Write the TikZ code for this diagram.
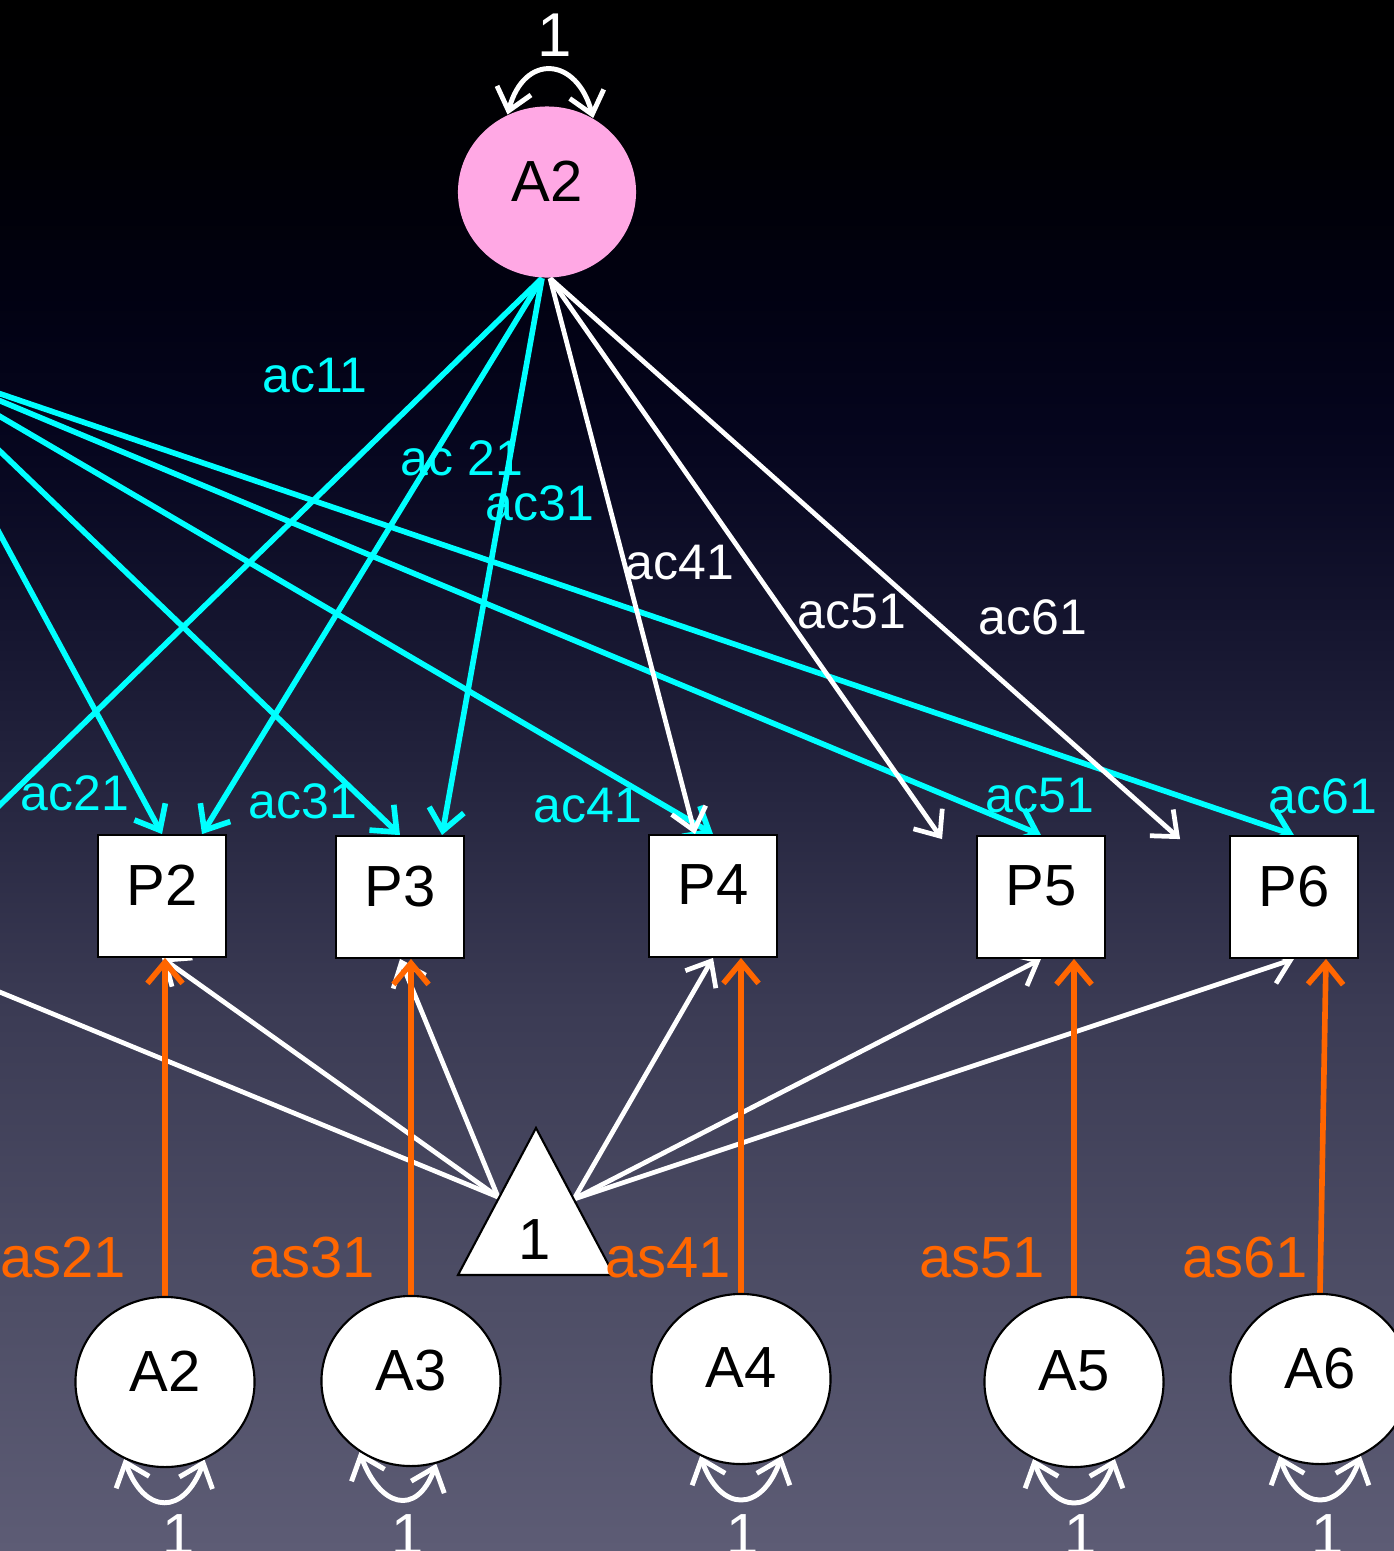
\documentclass[tikz,border=0pt]{standalone}
\usepackage{fontspec}
\setmainfont{Liberation Sans}
\usetikzlibrary{arrows.meta,shapes.geometric,calc}

\definecolor{cyanline}{HTML}{00FFFF}
\definecolor{orangeline}{HTML}{FF6600}
\definecolor{pinkfill}{HTML}{FFA8E4}
\definecolor{bga}{HTML}{5D5C75}
\definecolor{bgb}{HTML}{4E4E66}
\definecolor{bgc}{HTML}{3B3B54}
\definecolor{bgd}{HTML}{272741}
\definecolor{bge}{HTML}{13132D}
\definecolor{bgf}{HTML}{06061F}
\definecolor{bgg}{HTML}{010112}
\definecolor{bgh}{HTML}{000004}
\definecolor{bgi}{HTML}{000000}

% the path is fitted to the middle band (25bp to 75bp) of the shading
\pgfdeclareverticalshading{bgshade}{100bp}{color(0bp)=(bga); color(25bp)=(bga); color(33bp)=(bgb); color(42.5bp)=(bgc); color(49bp)=(bgd); color(55.5bp)=(bge); color(60.5bp)=(bgf); color(65.5bp)=(bgg); color(70bp)=(bgh); color(75bp)=(bgi); color(100bp)=(bgi)}

\pgfdeclarelayer{backdrop}
\pgfdeclarelayer{edges}
\pgfsetlayers{backdrop,edges,main}

\begin{document}
\begin{tikzpicture}[x=0.01cm, y=-0.01cm,
  bigfont/.style={font=\fontsize{16.5}{18}\selectfont},
  labfont/.style={font=\fontsize{14.2}{16}\selectfont, inner sep=0pt},
  obsbox/.style={bigfont, draw=black, line width=0.5pt, fill=white, rectangle,
    minimum width=1.28cm, minimum height=1.22cm, inner sep=0pt, text depth=6.3pt},
  latentw/.style={bigfont, draw=black, line width=0.6pt, fill=white, ellipse,
    minimum width=1.79cm, minimum height=1.70cm, inner sep=0pt, text depth=6.3pt},
  latentp/.style={bigfont, fill=pinkfill, ellipse,
    minimum width=1.78cm, minimum height=1.71cm, inner sep=0pt, text depth=6.3pt},
  cyanlab/.style={labfont, text=cyanline},
  whitelab/.style={labfont, text=white},
  orangelab/.style={bigfont, inner sep=0pt, text=orangeline},
  onelab/.style={bigfont, inner sep=0pt, text=white},
  barb/.tip={Straight Barb[length=6pt, width=10pt]},
  cyanarrow/.style={draw=cyanline, line width=1.6pt, -barb},
  whitearrow/.style={draw=white, line width=1.35pt, -barb},
  orangearrow/.style={draw=orangeline, line width=1.6pt, -barb},
  loopline/.style={draw=white, line width=1.4pt, barb-barb, looseness=1.9}
]
\useasboundingbox (0,0) rectangle (1394,1551);
\begin{pgfonlayer}{backdrop}
  \shade[shading=bgshade] (0,0) rectangle (1394,1551);
\end{pgfonlayer}

% common factor (top) and observed variables
\node[latentp] (Atop) at (547,192) {A2};
\node[obsbox] (P2) at (162,896) {P2};
\node[obsbox] (P3) at (400,897) {P3};
\node[obsbox] (P4) at (713,896) {P4};
\node[obsbox] (P5) at (1041,897) {P5};
\node[obsbox] (P6) at (1294,897) {P6};

% specific factors
\node[latentw] (L2) at (165,1382) {A2};
\node[latentw] (L3) at (411,1381) {A3};
\node[latentw] (L4) at (741,1379) {A4};
\node[latentw] (L5) at (1074,1382) {A5};
\node[latentw] (L6) at (1320,1379) {A6};

% mean (constant) triangle
\path[draw=black, line width=0.6pt, fill=white] (536,1128) -- (614,1275) -- (458,1275) -- cycle;
\node[bigfont, inner sep=0pt] (T1) at (535,1240) {1};
\coordinate (Tl) at (498,1197);
\coordinate (Tr) at (574,1199);

% off-page ends
\coordinate (S1) at (-93,362);
\coordinate (P1top) at (-31,835);
\coordinate (P1bot) at (-83,958);

\begin{pgfonlayer}{edges}
  % loadings from the left factor
  \draw[cyanarrow] (S1) -- (P2.north);
  \draw[cyanarrow] (S1) -- (P3.north);
  \draw[cyanarrow] (S1) -- (P4.north);
  \draw[cyanarrow] (S1) -- (P5.north);
  \draw[cyanarrow] (S1) -- (P6.north);
  % loadings from the top factor
  \draw[cyanarrow] ([xshift=-0.05cm]Atop.south) -- (P1top);
  \draw[cyanarrow] ([xshift=-0.05cm]Atop.south) -- ([xshift=0.4cm]P2.north);
  \draw[cyanarrow] ([xshift=-0.05cm]Atop.south) -- ([xshift=0.42cm]P3.north);
  \draw[whitearrow] ([xshift=0.03cm]Atop.south) -- ([xshift=-0.18cm]P4.north);
  \draw[whitearrow] ([xshift=0.03cm]Atop.south) -- ([xshift=-0.34cm,yshift=-0.04cm]P5.north west);
  \draw[whitearrow] ([xshift=0.03cm]Atop.south) -- ([xshift=-0.49cm,yshift=-0.04cm]P6.north west);
  % means
  \draw[whitearrow] (Tl) -- (P1bot);
  \draw[whitearrow] (Tl) -- (P2.south);
  \draw[whitearrow] (Tl) -- (P3.south);
  \draw[whitearrow] (Tr) -- (P4.south);
  \draw[whitearrow] (Tr) -- (P5.south);
  \draw[whitearrow] (Tr) -- (P6.south);
  % specific loadings
  \draw[orangearrow] (L2.north) -- (L2.north |- P2.south);
  \draw[orangearrow] (L3.north) -- (L3.north |- P3.south);
  \draw[orangearrow] (L4.north) -- (L4.north |- P4.south);
  \draw[orangearrow] (L5.north) -- (L5.north |- P5.south);
  \draw[orangearrow] (L6.north) -- ($(L6.north |- P6.south)+(6,0)$);
  % variances
  \draw[loopline] (Atop.117) to[out=75, in=105] (Atop.58);
  \draw[loopline] (L2.-118) to[out=-70, in=-110] (L2.-63);
  \draw[loopline] (L3.-126) to[out=-70, in=-110] (L3.-73);
  \draw[loopline] (L4.-118) to[out=-70, in=-110] (L4.-62);
  \draw[loopline] (L5.-118) to[out=-70, in=-110] (L5.-62);
  \draw[loopline] (L6.-118) to[out=-70, in=-110] (L6.-62);
\end{pgfonlayer}

% path labels
\node[cyanlab] (lac11) at (315,376) {ac11};
\node[cyanlab] (lac21t) at (462,458) {ac 21};
\node[cyanlab] (lac31t) at (540,503) {ac31};
\node[whitelab] (lac41t) at (680,563) {ac41};
\node[whitelab] (lac51t) at (852,612) {ac51};
\node[whitelab] (lac61t) at (1033,617) {ac61};
\node[cyanlab] (lac21) at (75,793) {ac21};
\node[cyanlab] (lac31) at (303,801) {ac31};
\node[cyanlab] (lac41) at (588,806) {ac41};
\node[cyanlab] (lac51) at (1040,796) {ac51};
\node[cyanlab] (lac61) at (1323,796) {ac61};
\node[orangelab] (las21) at (63,1258) {as21};
\node[orangelab] (las31) at (312,1258) {as31};
\node[orangelab] (las41) at (668,1258) {as41};
\node[orangelab] (las51) at (982,1258) {as51};
\node[orangelab] (las61) at (1245,1258) {as61};

% variance labels
\node[onelab, font=\fontsize{17.6}{19}\selectfont] (vtop) at (555,35) {1};
\node[onelab] (v2) at (179,1535) {1};
\node[onelab] (v3) at (408,1535) {1};
\node[onelab] (v4) at (743,1535) {1};
\node[onelab] (v5) at (1081,1535) {1};
\node[onelab] (v6) at (1328,1535) {1};
\end{tikzpicture}
\end{document}
